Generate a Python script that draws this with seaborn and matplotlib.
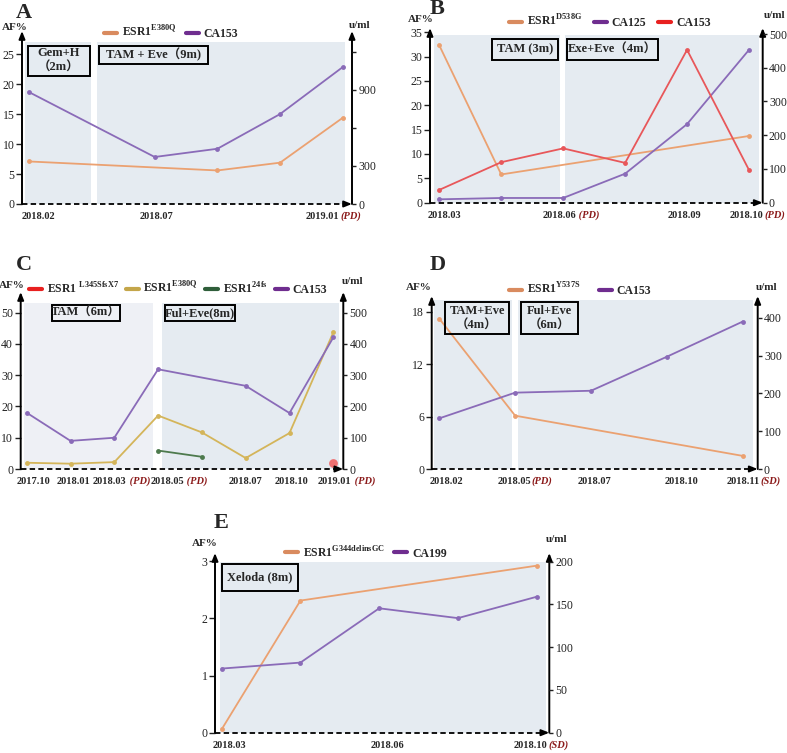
import seaborn as sns
import pandas as pd
import matplotlib.pyplot as plt
from matplotlib.patches import Rectangle
from matplotlib.lines import Line2D

# ---- data: x is the index of the sampling visit inside each panel ----
# A
a_dates = ['2018.02', '2018.07', '2019.01']
a_date_pos = [0, 2, 5]
a_date_tag = ['', '', '(PD)']
a_esr1_x = [0, 3, 4, 5]
a_esr1 = [7.1, 5.6, 6.9, 14.4]
a_ca153_x = [0, 2, 3, 4, 5]
a_ca153 = [882, 371, 436, 710, 1081]

# B
b_dates = ['2018.03', '2018.06', '2018.09', '2018.10']
b_date_pos = [0, 2, 4, 5]
b_date_tag = ['', ' (PD)', '', '(PD)']
b_esr1_x = [0, 1, 5]
b_esr1 = [32.3, 5.8, 13.7]
b_ca125_x = [0, 1, 2, 3, 4, 5]
b_ca125 = [10, 14, 14, 86, 233, 453]
b_ca153_x = [0, 1, 2, 3, 4, 5]
b_ca153 = [38, 120, 161, 118, 453, 97]

# C
c_dates = ['2017.10', '2018.01', '2018.03', '2018.05', '2018.07', '2018.10', '2019.01']
c_date_pos = [0, 1, 2, 3, 5, 6, 7]
c_date_tag = ['', '', ' (PD)', ' (PD)', '', '', ' (PD)']
c_l345_x = [7]
c_l345 = [1.8]
c_e380_x = [0, 1, 2, 3, 4, 5, 6, 7]
c_e380 = [2.0, 1.7, 2.2, 17.1, 11.7, 3.5, 11.5, 43.7]
c_24fs_x = [3, 4]
c_24fs = [5.9, 3.9]
c_ca153_x = [0, 1, 2, 3, 5, 6, 7]
c_ca153 = [180, 90, 100, 319, 266, 179, 421]

# D
d_dates = ['2018.02', '2018.05', '2018.07', '2018.10', '2018.11']
d_date_pos = [0, 1, 2, 3, 4]
d_date_tag = ['', '(PD)', '', '', '(SD)']
d_esr1_x = [0, 1, 4]
d_esr1 = [17.2, 6.1, 1.5]
d_ca153_x = [0, 1, 2, 3, 4]
d_ca153 = [134, 202, 207, 297, 390]

# E
e_dates = ['2018.03', '2018.06', '2018.10']
e_date_pos = [0, 2, 4]
e_date_tag = ['', '', '(SD)']
e_esr1_x = [0, 1, 4]
e_esr1 = [0.06, 2.31, 2.92]
e_ca199_x = [0, 1, 2, 3, 4]
e_ca199 = [75, 82, 145.5, 134, 159]

# ---- style ----
sns.set_style('white')
SERIF = ['Liberation Serif', 'Noto Sans CJK SC']
plt.rcParams['font.family'] = SERIF
plt.rcParams['mathtext.fontset'] = 'custom'
plt.rcParams['mathtext.rm'] = 'Liberation Serif'
plt.rcParams['mathtext.bf'] = 'Liberation Serif:bold'

ORANGE, ORANGE_L = '#eba171', '#d98b5f'
PURPLE, PURPLE_L = '#8a6bb8', '#6f2d8f'
RED, RED_L = '#e8575a', '#e8201f'
GOLD, GOLD_L = '#d4b55a', '#c4a64a'
GREEN, GREEN_L = '#4d7a4d', '#2f5e3a'
SHADE = '#e5ebf1'
SHADE2 = '#eef0f5'
DARKRED = '#8b1a1a'

W, H = 787, 753
fig = plt.figure(figsize=(W / 100, H / 100), dpi=100)


def px_rect(l, t, r, b):
    return [l / W, 1 - b / H, (r - l) / W, (b - t) / H]


def make_panel(geo, lticks, rticks, rlabels=None):
    l, t, r, b, x0, step, lppu, rppu = geo
    ax = fig.add_axes(px_rect(l, t, r, b))
    ax.set_facecolor('none')
    ax.set_xlim((l - x0) / step, (r - x0) / step)
    ax.set_ylim(0, (b - t) / lppu)
    ax2 = ax.twinx()
    ax2.set_ylim(0, (b - t) / rppu)
    for a in (ax, ax2):
        for s in a.spines.values():
            s.set_visible(False)
    ax.set_xticks([])
    ax.set_yticks(lticks)
    ax.tick_params(axis='y', left=True, direction='out', length=4, width=1,
                   labelsize=8.5, pad=1.5, colors='#222222')
    ax2.set_yticks(rticks)
    if rlabels is not None:
        ax2.set_yticklabels(rlabels)
    ax2.tick_params(axis='y', right=True, direction='out', length=3, width=1,
                    labelsize=8.5, pad=1.5, colors='#222222')
    arrow = dict(arrowstyle='-|>,head_length=0.45,head_width=0.18', color='black',
                 lw=1.4, shrinkA=0, shrinkB=0)
    for xx in (0, 1):
        ax.annotate('', xy=(xx, 1), xytext=(xx, 0), xycoords='axes fraction',
                    arrowprops=arrow, zorder=5)
    ax.plot([0, 0.985], [0, 0], transform=ax.transAxes, color='black', lw=1.3,
            ls=(0, (3, 1.8)), clip_on=False, zorder=5)
    ax.annotate('', xy=(1.0, 0), xytext=(0.98, 0), xycoords='axes fraction',
                arrowprops=arrow, zorder=5)
    ax.set_xlabel('')
    ax.set_ylabel('')
    ax2.set_ylabel('')
    return ax, ax2


def shade(ax, l, t, r, b, color=SHADE):
    ax.add_patch(Rectangle((l / W, 1 - b / H), (r - l) / W, (b - t) / H,
                           transform=fig.transFigure, facecolor=color, lw=0,
                           zorder=0.5, clip_on=False))


def box(ax, l, t, r, b, text):
    ax.add_patch(Rectangle((l / W, 1 - b / H), (r - l) / W, (b - t) / H,
                           transform=fig.transFigure, facecolor='none',
                           edgecolor='black', lw=1.4, zorder=6, clip_on=False))
    ax.text((l + r) / 2 / W, 1 - (t + b) / 2 / H, text, transform=fig.transFigure,
            ha='center', va='center', fontsize=9, fontweight='bold',
            family=SERIF, zorder=7, linespacing=1.3)


def series(ax, xs, ys, color):
    sns.lineplot(x=xs, y=ys, ax=ax, color=color, lw=1.3, marker='o',
                 markersize=3.5, markeredgewidth=0, legend=False, zorder=3)


def dates(ax, labels, pos, tags, shifts):
    for lab, p, tag, dx in zip(labels, pos, tags, shifts):
        t = ax.annotate(lab, xy=(p, 0), xycoords=('data', 'axes fraction'),
                        xytext=(dx * 0.72, -9), textcoords='offset points',
                        ha='center', va='center', fontsize=7.5, fontweight='bold')
        if tag:
            ax.annotate(tag, xy=(1, 0.5), xycoords=t, xytext=(0.3, 0),
                        textcoords='offset points', ha='left', va='center',
                        fontsize=7.5, fontweight='bold', style='italic',
                        color=DARKRED)


def fig_text(x, y, s, size=8, **kw):
    fig.text(x / W, 1 - y / H, s, ha='center', va='center', fontsize=size,
             fontweight='bold', **kw)


def legend(cx, cy, items, spacing=1.0):
    handles = [Line2D([], [], color=c, lw=3) for _, c in items]
    fig.legend(handles, [n for n, _ in items], loc='center',
               bbox_to_anchor=(cx / W, 1 - cy / H), ncol=len(items),
               frameon=False, prop=dict(family=SERIF, weight='bold', size=8.5),
               handlelength=1.1, handletextpad=0.4, columnspacing=spacing)


# ---- panel A ----
ax, ax2 = make_panel((22, 31, 352, 204, 29.3, 62.7, 5.99, 0.1267),
                     [0, 5, 10, 15, 20, 25], [0, 300, 600, 900, 1200],
                     ['0', '300', '', '900', ''])
shade(ax, 25, 41.7, 90.7, 204)
shade(ax, 97.3, 41.7, 345, 204)
box(ax, 28, 45.7, 90, 75.7, 'Gem+H\n（2m）')
box(ax, 99, 45.7, 208, 64, 'TAM + Eve（9m)')
series(ax, a_esr1_x, a_esr1, ORANGE)
series(ax2, a_ca153_x, a_ca153, PURPLE)
dates(ax, a_dates, a_date_pos, a_date_tag, [9, 2, -20])
legend(171, 32, [(r'ESR1$^{\mathbf{E380Q}}$', ORANGE_L), ('CA153', PURPLE_L)],
       spacing=0.8)
fig_text(24, 13, 'A', size=16)
fig_text(15, 28, 'AF%')
fig_text(360, 25, 'u/ml')

# ---- panel B ----
ax, ax2 = make_panel((430, 28, 762.7, 202.7, 439.3, 61.94, 4.87, 0.3374),
                     [0, 5, 10, 15, 20, 25, 30, 35], [0, 100, 200, 300, 400, 500])
shade(ax, 434.3, 35, 560.3, 202.7)
shade(ax, 565, 35, 759, 202.7)
box(ax, 492, 39, 558, 60, 'TAM (3m)')
box(ax, 567, 39, 658, 60, 'Exe+Eve（4m）')
series(ax, b_esr1_x, b_esr1, ORANGE)
series(ax2, b_ca125_x, b_ca125, PURPLE)
series(ax2, b_ca153_x, b_ca153, RED)
dates(ax, b_dates, b_date_pos, b_date_tag, [5, -4, -3, -2])
legend(610, 21, [(r'ESR1$^{\mathbf{D538G}}$', ORANGE_L), ('CA125', PURPLE_L),
                 ('CA153', RED_L)], spacing=1.0)
fig_text(437, 9, 'B', size=16)
fig_text(421, 20, 'AF%')
fig_text(775, 16, 'u/ml')

# ---- panel C ----
ax, ax2 = make_panel((20.7, 292, 343.3, 469, 26.7, 43.8, 3.126, 0.3126),
                     [0, 10, 20, 30, 40, 50], [0, 100, 200, 300, 400, 500])
shade(ax, 24, 303.3, 152.7, 469, SHADE2)
shade(ax, 162.3, 303.3, 339, 469)
box(ax, 51.7, 305, 120, 321, 'TAM（6m）')
box(ax, 165, 305, 235, 321, 'Ful+Eve(8m)')
series(ax, c_e380_x, c_e380, GOLD)
series(ax, c_24fs_x, c_24fs, GREEN)
sns.scatterplot(x=c_l345_x, y=c_l345, ax=ax, color='#f05a5a', s=40, alpha=0.85,
                linewidth=0, legend=False, zorder=4)
series(ax2, c_ca153_x, c_ca153, PURPLE)
dates(ax, c_dates, c_date_pos, c_date_tag, [7, 3, -5, 9, 0, 2, 1])
legend(178, 288, [(r'ESR1 $^{\mathbf{L345SfsX7}}$', RED_L),
                  (r'ESR1$^{\mathbf{E380Q}}$', GOLD_L),
                  (r'ESR1$^{\mathbf{24fs}}$', GREEN_L), ('CA153', PURPLE_L)],
       spacing=0.6)
fig_text(24, 265, 'C', size=16)
fig_text(12, 285, 'AF%')
fig_text(353, 282, 'u/ml')

# ---- panel D ----
ax, ax2 = make_panel((431.7, 296, 757.7, 469, 439.3, 75.85, 8.74, 0.378),
                     [0, 6, 12, 18], [0, 100, 200, 300, 400])
shade(ax, 434.3, 300, 512, 469)
shade(ax, 518, 300, 753.3, 469)
box(ax, 445, 302.3, 509, 334.3, 'TAM+Eve\n（4m）')
box(ax, 521, 302.3, 577.7, 334.3, 'Ful+Eve\n（6m）')
series(ax, d_esr1_x, d_esr1, ORANGE)
series(ax2, d_ca153_x, d_ca153, PURPLE)
dates(ax, d_dates, d_date_pos, d_date_tag, [7, -1, 4, 15, 1])
legend(580, 289, [(r'ESR1$^{\mathbf{Y537S}}$', ORANGE_L), ('CA153', PURPLE_L)],
       spacing=1.6)
fig_text(438, 265, 'D', size=16)
fig_text(419, 288, 'AF%')
fig_text(767, 288, 'u/ml')

# ---- panel E ----
ax, ax2 = make_panel((215, 553, 549.3, 732.7, 221.7, 78.75, 57.2, 0.855),
                     [0, 1, 2, 3], [0, 50, 100, 150, 200])
shade(ax, 220, 561.7, 546, 732.7)
box(ax, 221.7, 564, 298.3, 590.7, 'Xeloda (8m)')
series(ax, e_esr1_x, e_esr1, ORANGE)
series(ax2, e_ca199_x, e_ca199, PURPLE)
dates(ax, e_dates, e_date_pos, e_date_tag, [8, 8, -6])
legend(366, 552, [(r'ESR1$^{\mathbf{G344delinsGC}}$', ORANGE_L), ('CA199', PURPLE_L)],
       spacing=0.8)
fig_text(221, 523, 'E', size=16)
fig_text(205, 543, 'AF%')
fig_text(557, 540, 'u/ml')

fig.savefig('out.png', dpi=100)
